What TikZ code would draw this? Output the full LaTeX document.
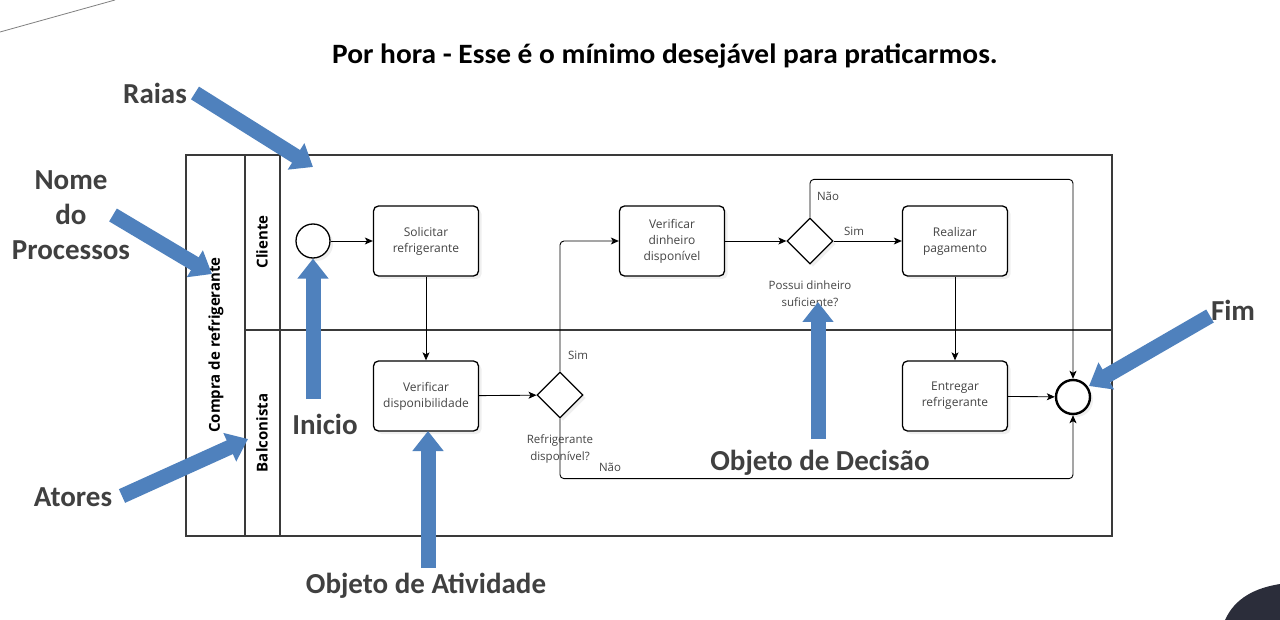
\documentclass[tikz,border=0pt]{standalone}
\usepackage{fontspec}
\setmainfont{Carlito}
\newfontfamily\diag{Open Sans}
\newfontfamily\titlefont[FakeStretch=1.05]{Carlito}
\usetikzlibrary{arrows.meta,shapes.geometric,shadows}
\definecolor{annblue}{HTML}{4F81BD}
\definecolor{anntext}{HTML}{404040}
\definecolor{pooline}{HTML}{3A3A3A}
\definecolor{dtext}{HTML}{444444}
\definecolor{blob}{HTML}{2B2D3A}
\begin{document}
\begin{tikzpicture}[x=1pt,y=-1pt,
  pool/.style={draw=pooline,line width=1.1pt},
  task/.style={draw=black,line width=1.3pt,rounded corners=5pt,fill=white,
    minimum width=105pt,minimum height=70pt,inner sep=2pt,align=center,
    font=\diag\fontsize{12}{16}\selectfont,text=dtext,
    drop shadow={opacity=0.12,shadow xshift=3pt,shadow yshift=-3pt}},
  gate/.style={diamond,draw=black,line width=1.3pt,fill=white,aspect=1,
    minimum width=46pt,minimum height=46pt,inner sep=0pt,
    drop shadow={opacity=0.12,shadow xshift=3pt,shadow yshift=-3pt}},
  flow/.style={draw=black,line width=0.9pt,rounded corners=4pt,
    -{Stealth[length=8pt,width=7pt,inset=2pt]}},
  small/.style={font=\diag\fontsize{11.5}{17}\selectfont,text=dtext,align=center,inner sep=0pt},
  lanelbl/.style={font=\diag\bfseries\fontsize{15}{17}\selectfont,rotate=90,inner sep=0pt},
  annarrow/.style={draw=annblue,line width=15pt,
    -{Triangle[length=20pt,width=30pt]}},
  ann/.style={font=\bfseries\fontsize{29}{35}\selectfont,text=anntext,align=center,inner sep=0pt}
]
\useasboundingbox (0,0) rectangle (1280,620);
\fill[white] (0,0) rectangle (1280,620);
% decorations
\draw[gray,line width=0.8pt] (0,32) -- (115,0);
\fill[blob] (1225,620) .. controls (1235,598) and (1255,588) .. (1280,584) -- (1280,620) -- cycle;
% title
\node[font=\titlefont\bfseries\fontsize{28}{30}\selectfont] (title) at (665,56) {Por hora - Esse é o mínimo desejável para praticarmos.};
% pool
\draw[pool] (186,155) rectangle (1112,536);
\draw[pool] (245,155) -- (245,536);
\draw[pool] (280,155) -- (280,536);
\draw[pool] (245,330) -- (1112,330);
\node[lanelbl] (poolname) at (216,345) {Compra de refrigerante};
\node[lanelbl] (lane1) at (262,242) {Cliente};
\node[lanelbl] (lane2) at (262,433) {Balconista};
% elements
\node[circle,draw=black,line width=1.3pt,minimum size=34pt,inner sep=0pt,fill=white,
  drop shadow={opacity=0.12,shadow xshift=3pt,shadow yshift=-3pt}] (start) at (313,241) {};
\node[task] (t1) at (426,241) {Solicitar\\refrigerante};
\node[task] (t2) at (426,396) {Verificar\\disponibilidade};
\node[gate] (g1) at (560,395) {};
\node[task] (t3) at (672,241) {Verificar\\dinheiro\\disponível};
\node[gate] (g2) at (810,241) {};
\node[task] (t4) at (955,241) {Realizar\\pagamento};
\node[task] (t5) at (955,396) {Entregar\\refrigerante};
\node[circle,draw=black,line width=2.4pt,minimum size=34pt,inner sep=0pt,fill=white,
  drop shadow={opacity=0.12,shadow xshift=3pt,shadow yshift=-3pt}] (end) at (1073,397) {};
% flows
\draw[flow] (start) -- (t1);
\draw[flow] (t1) -- (t2);
\draw[flow] (t2) -- (g1);
\draw[flow] (g1.north) |- (t3.west);
\draw[flow] (g1.south) -- ++(0,60) -| (end.south);
\draw[flow] (t3) -- (g2);
\draw[flow] (g2.east) -- (t4.west);
\draw[flow] (g2.north) -- ++(0,-38) -| (end.north);
\draw[flow] (t4) -- (t5);
\draw[flow] (t5) -- (end);
% flow labels
\node[small] (sim1) at (578,355) {Sim};
\node[small] (nao1) at (610,467) {Não};
\node[small] (sim2) at (854,231) {Sim};
\node[small] (nao2) at (828,196) {Não};
\node[small] (q1) at (560,449) {Refrigerante\\disponível?};
\node[small] (q2) at (810,294) {Possui dinheiro\\suficiente?};
% annotation arrows
\coordinate (raiasT) at (195,93);
\coordinate (raiasH) at (313,167);
\draw[annarrow] (raiasT) -- (raiasH);
\coordinate (nomeT) at (113,215);
\coordinate (nomeH) at (212,274);
\draw[annarrow] (nomeT) -- (nomeH);
\coordinate (atT) at (122,496);
\coordinate (atH) at (248,439);
\draw[annarrow] (atT) -- (atH);
\coordinate (inT) at (313,399);
\draw[annarrow] (inT) -- (start.south);
\coordinate (oaT) at (428,568);
\coordinate (oaH) at (428,431);
\draw[annarrow] (oaT) -- (oaH);
\coordinate (odT) at (818,439);
\coordinate (odH) at (818,302);
\draw[annarrow] (odT) -- (odH);
\coordinate (fimT) at (1210,316);
\coordinate (fimH) at (1089,386);
\draw[annarrow] (fimT) -- (fimH);
% annotation labels
\node[ann] (lraias) at (155,93) {Raias};
\node[ann] (lnome) at (71,215) {Nome\\do\\Processos};
\node[ann] (latores) at (73,497) {Atores};
\node[ann] (linicio) at (325,424) {Inicio};
\node[ann] (latv) at (426,586) {Objeto de Atividade};
\node[ann] (ldec) at (820,463) {Objeto de Decisão};
\node[ann] (lfim) at (1233,310) {Fim};
\end{tikzpicture}
\end{document}
